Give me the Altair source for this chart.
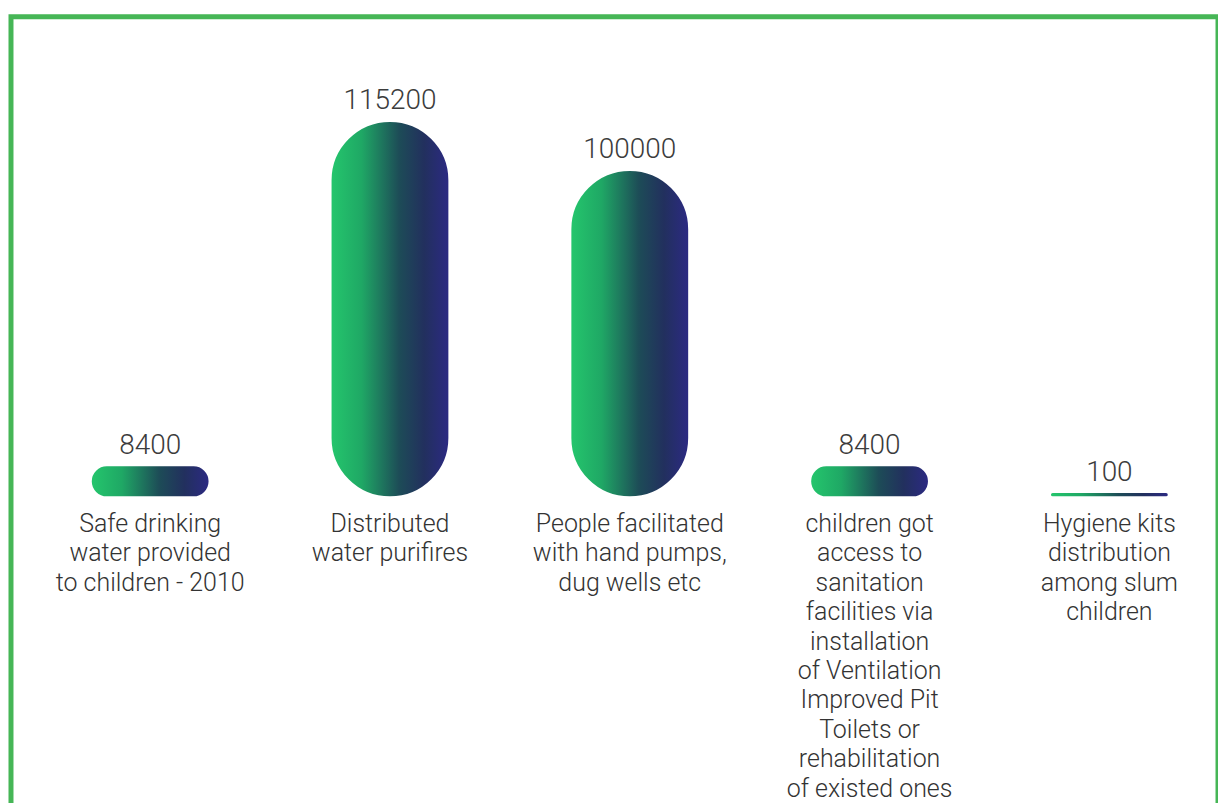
import altair as alt
import pandas as pd

categories = ["c1", "c2", "c3", "c4", "c5"]
values = [8400, 115200, 100000, 8400, 100]
value_labels = ["8400", "115200", "100000", "8400", "100"]
descriptions = [
    "Safe drinking\nwater provided\nto children - 2010",
    "Distributed\nwater purifires",
    "People facilitated\nwith hand pumps,\ndug wells etc",
    "children got\naccess to\nsanitation\nfacilities via\ninstallation\nof Ventilation\nImproved Pit\nToilets or\nrehabilitation\nof existed ones",
    "Hygiene kits\ndistribution\namong slum\nchildren",
]

df = pd.DataFrame({
    "cat": categories,
    "value": values,
    "vlabel": value_labels,
    "desc": descriptions,
})

grad = alt.LinearGradient(
    gradient="linear",
    x1=0, x2=1, y1=0, y2=0,
    stops=[
        alt.GradientStop(offset=0.0, color="#24c46c"),
        alt.GradientStop(offset=0.25, color="#1fa865"),
        alt.GradientStop(offset=0.58, color="#1d4c57"),
        alt.GradientStop(offset=0.8, color="#22305e"),
        alt.GradientStop(offset=1.0, color="#2b2a80"),
    ],
)

xenc = alt.X("cat:N", sort=categories, axis=None,
             scale=alt.Scale(type="point", range=[139.4, 1100.2], padding=0))
yscale = alt.Scale(domain=[-99400, 148300], nice=False, zero=False)

base = alt.Chart(df)

bars = base.mark_bar(width=114, cornerRadius=57, fill=grad, stroke=grad,
                     strokeWidth=3).encode(
    x=xenc,
    y=alt.Y("value:Q", scale=yscale, axis=None),
    y2=alt.Y2Datum(0),
)

vlabels = base.mark_text(font="Roboto", fontSize=28, fontWeight=300,
                         color="#3c3c3c", baseline="bottom", dy=-8).encode(
    x=xenc,
    y=alt.Y("value:Q", scale=yscale, axis=None),
    text="vlabel:N",
)

dlabels = base.mark_text(font="Roboto", fontSize=25, fontWeight=300,
                         color="#333333", baseline="top", dy=17,
                         lineBreak="\n", lineHeight=29.5).encode(
    x=xenc,
    y=alt.YDatum(0, type="quantitative", scale=yscale, axis=None),
    text="desc:N",
)

chart = alt.layer(bars, vlabels, dlabels).properties(
    width=1209,
    height=800,
    padding={"left": 3, "top": 8, "right": 0, "bottom": 0},
    background="white",
).configure_view(stroke="#46b656", strokeWidth=5)

chart.save("out.html", embed_options={"renderer": "svg", "actions": False})
